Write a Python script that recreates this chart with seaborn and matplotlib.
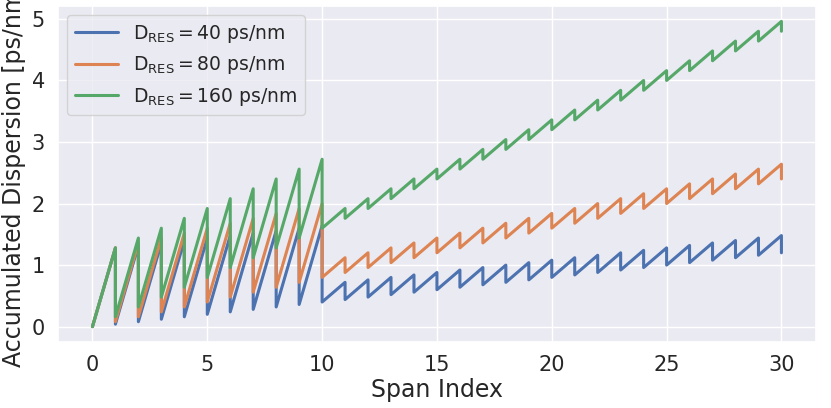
import matplotlib
matplotlib.use("Agg")
import matplotlib.pyplot as plt
import pandas as pd
import seaborn as sns

# span index 1..30, value at end of each span before/after compensation
spans = list(range(1, 31))

peak_40 = [1.28, 1.32, 1.36, 1.40, 1.44, 1.48, 1.52, 1.56, 1.60, 1.64,
           0.72, 0.76, 0.80, 0.84, 0.88, 0.92, 0.96, 1.00, 1.04, 1.08,
           1.12, 1.16, 1.20, 1.24, 1.28, 1.32, 1.36, 1.40, 1.44, 1.48]
trough_40 = [0.04, 0.08, 0.12, 0.16, 0.20, 0.24, 0.28, 0.32, 0.36, 0.40,
             0.44, 0.48, 0.52, 0.56, 0.60, 0.64, 0.68, 0.72, 0.76, 0.80,
             0.84, 0.88, 0.92, 0.96, 1.00, 1.04, 1.08, 1.12, 1.16, 1.20]

peak_80 = [1.28, 1.36, 1.44, 1.52, 1.60, 1.68, 1.76, 1.84, 1.92, 2.00,
           1.12, 1.20, 1.28, 1.36, 1.44, 1.52, 1.60, 1.68, 1.76, 1.84,
           1.92, 2.00, 2.08, 2.16, 2.24, 2.32, 2.40, 2.48, 2.56, 2.64]
trough_80 = [0.08, 0.16, 0.24, 0.32, 0.40, 0.48, 0.56, 0.64, 0.72, 0.80,
             0.88, 0.96, 1.04, 1.12, 1.20, 1.28, 1.36, 1.44, 1.52, 1.60,
             1.68, 1.76, 1.84, 1.92, 2.00, 2.08, 2.16, 2.24, 2.32, 2.40]

peak_160 = [1.28, 1.44, 1.60, 1.76, 1.92, 2.08, 2.24, 2.40, 2.56, 2.72,
            1.92, 2.08, 2.24, 2.40, 2.56, 2.72, 2.88, 3.04, 3.20, 3.36,
            3.52, 3.68, 3.84, 4.00, 4.16, 4.32, 4.48, 4.64, 4.80, 4.96]
trough_160 = [0.16, 0.32, 0.48, 0.64, 0.80, 0.96, 1.12, 1.28, 1.44, 1.60,
              1.76, 1.92, 2.08, 2.24, 2.40, 2.56, 2.72, 2.88, 3.04, 3.20,
              3.36, 3.52, 3.68, 3.84, 4.00, 4.16, 4.32, 4.48, 4.64, 4.80]

labels = [r"$\mathregular{D_{RES}=40}$ ps/nm",
          r"$\mathregular{D_{RES}=80}$ ps/nm",
          r"$\mathregular{D_{RES}=160}$ ps/nm"]


def sawtooth(peaks, troughs, label):
    rows = [(0, 0.0)]
    for k, p, t in zip(spans, peaks, troughs):
        rows.append((k, p))
        rows.append((k, t))
    df = pd.DataFrame(rows, columns=["span", "disp"])
    df["label"] = label
    return df


data = pd.concat([
    sawtooth(peak_40, trough_40, labels[0]),
    sawtooth(peak_80, trough_80, labels[1]),
    sawtooth(peak_160, trough_160, labels[2]),
], ignore_index=True)

sns.set_theme(style="darkgrid")

fig = plt.figure(figsize=(8.31, 4.08), dpi=100)
ax = fig.add_axes([0.0698, 0.162, 0.912, 0.823])
sns.lineplot(data=data, x="span", y="disp", hue="label", sort=False,
             estimator=None, linewidth=2.2, ax=ax)

ax.set_xlabel("Span Index", fontsize=17, labelpad=2)
ax.set_ylabel("Accumulated Dispersion [ps/nm]", fontsize=17)
ax.tick_params(labelsize=15)
ax.set_xticks([0, 5, 10, 15, 20, 25, 30])
ax.legend(loc="upper left", fontsize=13.5, title=None, handlelength=2.3)

fig.savefig("out.png", dpi=100)
